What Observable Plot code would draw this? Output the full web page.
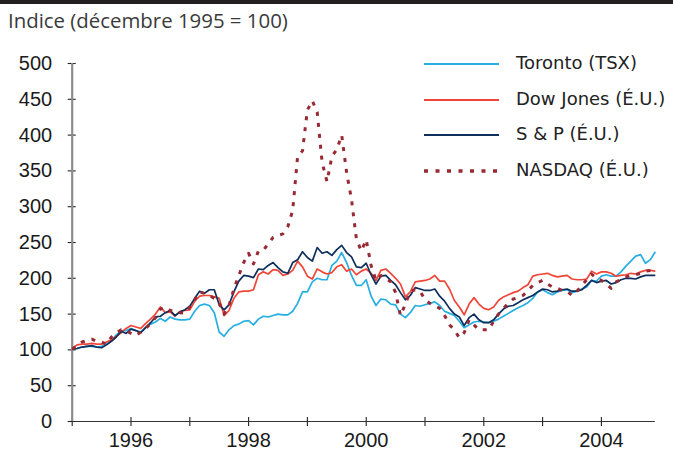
<!DOCTYPE html>
<html><head><meta charset="utf-8">
<script src="https://cdn.jsdelivr.net/npm/d3@7"></script>
<script src="https://cdn.jsdelivr.net/npm/@observablehq/plot@0.6"></script>
<style>
body{margin:0;background:#fff;}
#wrap{position:relative;width:673px;height:450px;overflow:hidden;background:#fff;}
#bar{position:absolute;left:0;top:0;width:673px;height:4px;background:#231f20;}
#title{position:absolute;left:8px;top:6px;font-family:"Open Sans",sans-serif;font-size:20.4px;color:#3a3a3a;white-space:nowrap;}
#chart{position:absolute;left:0;top:40px;}
#legend{position:absolute;left:424px;top:44px;font-family:"DejaVu Sans",sans-serif;font-size:18px;color:#222;}
.row{position:absolute;left:0;height:36px;width:250px;}
.row svg{position:absolute;left:0;top:0;}
.row span{position:absolute;left:92px;top:0;line-height:38px;white-space:nowrap;}
</style></head><body>
<div id="wrap"><div id="bar"></div><div id="title">Indice (décembre 1995 = 100)</div><div id="chart"></div><div id="legend"></div></div>
<script>
const series = ["Toronto (TSX)", "Dow Jones (É.U.)", "S & P (É.U.)", "NASDAQ (É.U.)"];
const colors = ["#27aee3", "#ef4638", "#0e2f5c", "#982a33"];
const yTicks = [0, 50, 100, 150, 200, 250, 300, 350, 400, 450, 500];
const xTickLabels = ["", "1996", "", "1998", "", "2000", "", "2002", "", "2004"];
// monthly index values, December 1995 = 100
const toronto = [101,102,104,105,105,104,105,108,113,121, 127,127,130,127,125,132,136,139,144,140,
 146,143,142,142,143,154,162,164,162,152, 125,119,128,134,136,140,141,135,143,147,
 146,148,150,149,149,154,165,181,181,195, 200,198,198,218,224,236,222,204,190,190,
 198,175,162,171,170,164,163,150,145,152, 162,161,163,165,167,162,154,151,148,140,
 131,135,139,140,139,138,140,143,147,151, 155,159,162,166,172,181,184,180,177,181,
 183,184,180,182,185,188,197,196,203,205, 203,203,209,217,224,231,233,221,226,237];
const dowJones = [102,107,108,108,109,108,108,111,114,119, 124,130,134,132,130,137,143,150,160,152,
 153,147,154,155,156,168,175,176,176,174, 172,148,155,172,181,182,182,184,205,209,
 206,212,211,204,206,211,224,216,203,199, 213,209,206,208,216,219,210,213,205,210,
 213,207,197,211,213,207,200,192,174,181, 195,196,197,199,204,196,196,185,169,160,
 149,164,173,164,158,156,160,169,174,177, 180,182,187,191,203,205,206,207,204,202,
 203,204,199,198,198,199,210,206,209,209, 207,203,204,205,207,206,209,211,211,210];
const sp = [101,102,104,105,106,104,103,107,112,118, 126,123,129,127,124,131,138,146,147,152,
 155,148,153,156,161,172,182,179,184,184, 163,156,163,181,196,204,203,201,213,212,
 218,222,215,209,207,222,226,237,229,224, 243,235,237,232,240,246,236,230,216,215,
 221,205,192,203,204,197,191,180,170,176, 187,185,183,183,185,175,168,158,150,146,
 134,145,150,142,138,138,142,150,157,161, 162,166,170,173,176,181,185,184,181,182,
 184,185,182,182,184,190,197,194,196,197, 192,194,198,200,200,199,202,204,204,204];
const nasdaq = [101,106,111,113,115,112,111,108,118,124, 128,127,123,120,125,130,137,145,157,160,
 155,154,152,151,160,170,181,179,176,172, 165,150,162,185,204,222,235,220,238,239,
 248,257,260,262,272,295,370,378,435,448, 432,362,335,370,380,400,348,310,255,238,
 254,218,197,204,200,195,180,148,164,182, 184,182,170,165,162,158,148,135,128,117,
 124,142,135,128,128,128,140,150,158,165, 171,173,176,183,190,194,197,192,188,186,
 183,182,176,182,190,198,206,200,197,192, 186,195,198,202,204,205,207,210,211,212];

const allSeries = [toronto, dowJones, sp, nasdaq];
const rows = allSeries.map((vals, k) => vals.map((v, i) => ({i, v, s: series[k]})));
const xTicks = xTickLabels.map((_, k) => k * 12);

const lineMarks = rows.map((data, k) => Plot.line(data, {
  x: "i", y: "v", stroke: colors[k],
  strokeWidth: k === 3 ? 3 : 1.7,
  strokeDasharray: k === 3 ? "4,7" : null,
  strokeLinecap: "butt", strokeLinejoin: "round"
}));

const chart = Plot.plot({
  width: 673, height: 410,
  marginLeft: 71.7, marginRight: 18.2, marginTop: 23, marginBottom: 29,
  x: {domain: [0, 119]},
  y: {domain: [0, 500]},
  style: {fontFamily: "'Liberation Sans', Arial, sans-serif", fontSize: "20px", color: "#1a1a1a", background: "#fff"},
  marks: [
    Plot.axisY({ticks: yTicks, tickSize: 8, dx: 4, tickPadding: 16, label: null, fontSize: 20, stroke: "#222", strokeWidth: 1.1}),
    Plot.axisX({ticks: xTicks, tickFormat: d => xTickLabels[d / 12], tickSize: 9, dy: -4, tickPadding: 6, label: null, fontSize: 20, stroke: "#222", strokeWidth: 1.1}),
    Plot.ruleY([0], {stroke: "#333", strokeWidth: 1.2}),
    Plot.ruleX([0], {stroke: "#8c8c8c", strokeWidth: 2.2}),
    ...lineMarks
  ]
});
document.getElementById("chart").appendChild(chart);

const legend = document.getElementById("legend");
series.forEach((name, k) => {
  const row = document.createElement("div");
  row.className = "row";
  row.style.top = (k * 35.6) + "px";
  const dash = k === 3 ? 'stroke-dasharray="4,7.5"' : "";
  const sw = k === 3 ? 3.5 : 2;
  row.innerHTML = `<svg width="80" height="36"><line x1="0" x2="75" y1="20" y2="20" stroke="${colors[k]}" stroke-width="${sw}" ${dash}/></svg><span>${name}</span>`;
  legend.appendChild(row);
});
</script>
</body></html>
